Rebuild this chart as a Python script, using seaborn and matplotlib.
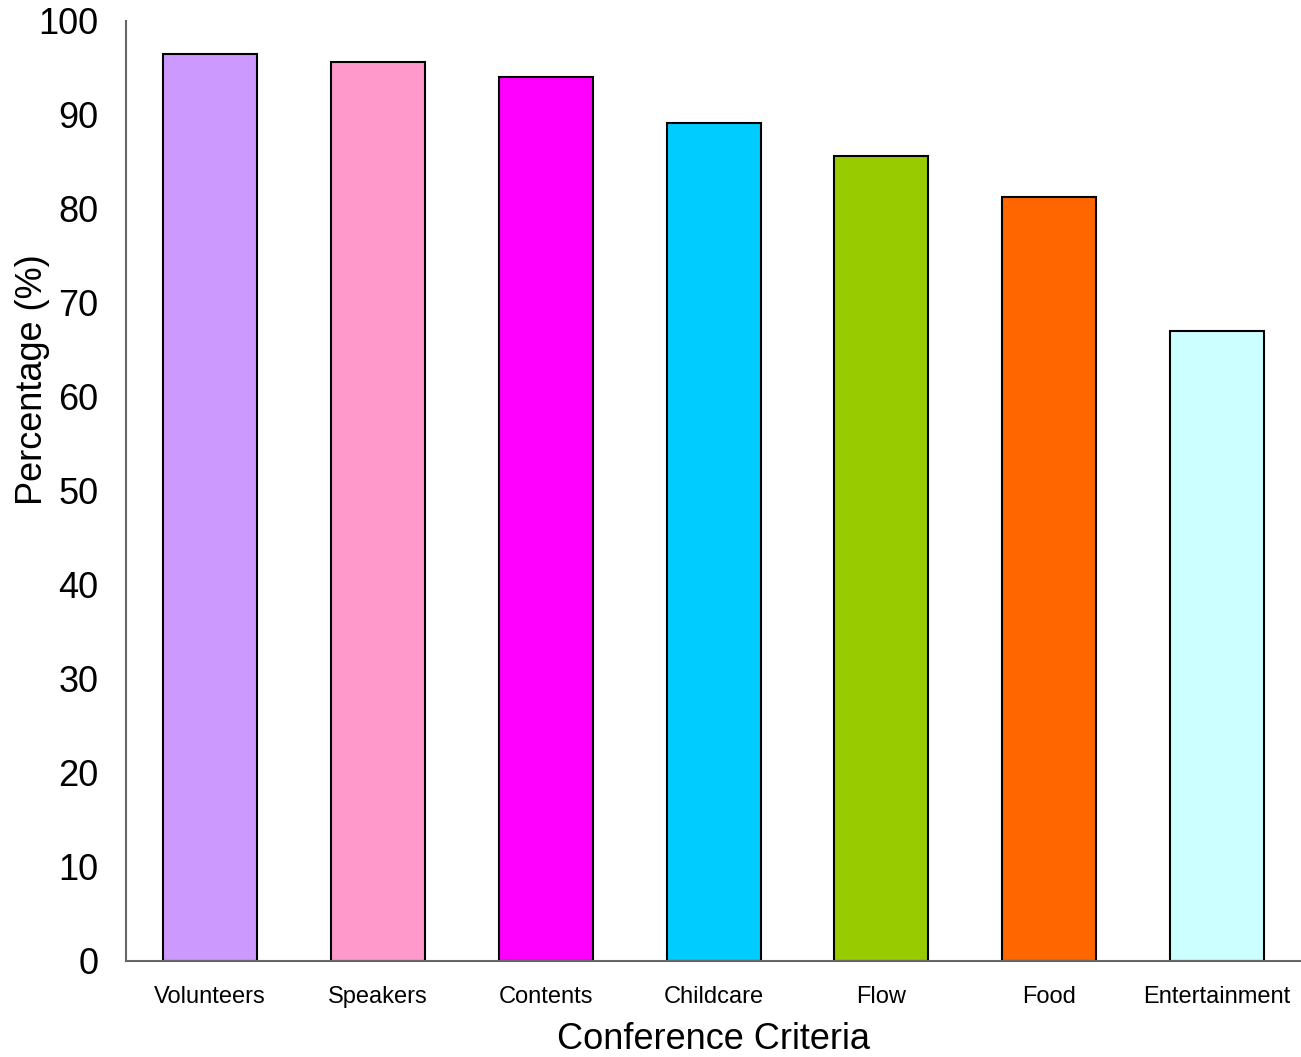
import matplotlib
matplotlib.use("Agg")
import matplotlib.pyplot as plt
import seaborn as sns
import pandas as pd

categories = ["Volunteers", "Speakers", "Contents", "Childcare", "Flow", "Food", "Entertainment"]
values = [96.5, 95.6, 94.0, 89.1, 85.6, 81.2, 67.0]
colors = ["#cc99ff", "#ff99cc", "#ff00ff", "#00ccff", "#99cc00", "#ff6600", "#ccffff"]
yticks = [0, 10, 20, 30, 40, 50, 60, 70, 80, 90, 100]

sns.set_theme(style="white")
plt.rcParams['font.family'] = ['Liberation Sans', 'DejaVu Sans']

df = pd.DataFrame({"Criteria": categories, "Percentage": values})

fig = plt.figure(figsize=(13.01, 10.57), dpi=100)
ax = fig.add_axes([126/1301, 1 - 961/1057, (1301-126)/1301, (961-20.7)/1057])

sns.barplot(data=df, x="Criteria", y="Percentage", hue="Criteria", palette=colors,
            legend=False, width=0.56, edgecolor="black", linewidth=1.5, ax=ax, saturation=1)

ax.set_xlim(-0.5, 6.5)
ax.set_ylim(0, 100)
ax.set_yticks(yticks)
ax.set_yticklabels([str(t) for t in yticks], fontsize=26)
ax.tick_params(axis="y", direction="in", length=10, width=1.5, color="#666666", pad=20)
ax.tick_params(axis="x", length=0, labelsize=17, pad=18)
for lbl in ax.get_xticklabels():
    lbl.set_color("black")
for lbl in ax.get_yticklabels():
    lbl.set_color("black")

sns.despine(ax=ax, top=True, right=True)
for s in ["left", "bottom"]:
    ax.spines[s].set_color("#666666")
    ax.spines[s].set_linewidth(1.5)

ax.set_xlabel("Conference Criteria", fontsize=26, color="black", labelpad=10)
ax.set_ylabel("Percentage (%)", fontsize=26, color="black")
ax.yaxis.set_label_coords(-0.0647, 0.618)

fig.savefig("out.png", dpi=100)
